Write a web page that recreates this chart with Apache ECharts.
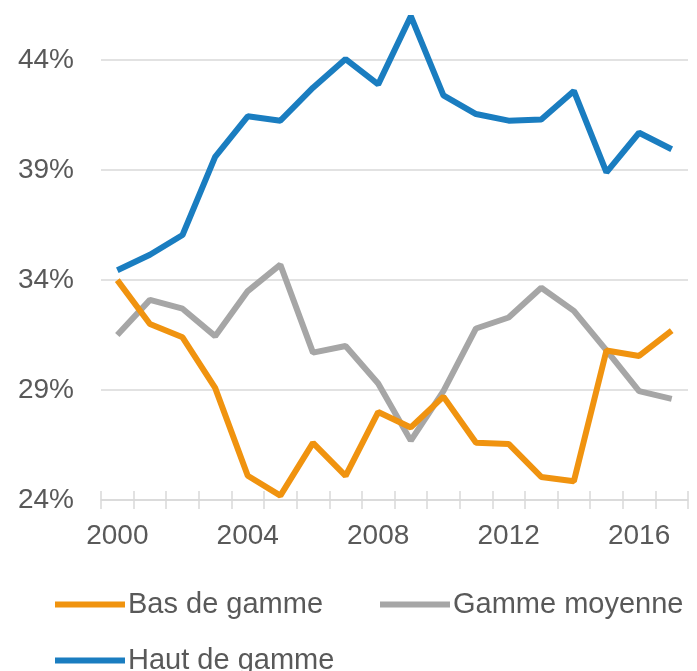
<!DOCTYPE html>
<html>
<head>
<meta charset="utf-8">
<script src="https://cdn.jsdelivr.net/npm/echarts@6/dist/echarts.min.js"></script>
<style>
  html, body { margin: 0; padding: 0; background: #fff; }
  #chart { width: 697px; height: 671px; }
</style>
</head>
<body>
<div id="chart"></div>
<script>
var years = ['2000', '2001', '2002', '2003', '2004', '2005', '2006', '2007', '2008',
    '2009', '2010', '2011', '2012', '2013', '2014', '2015', '2016', '2017'];

var basDeGamme = [34.0, 32.0, 31.4, 29.1, 25.1, 24.2, 26.6, 25.1, 28.0,
    27.3, 28.7, 26.6, 26.55, 25.05, 24.85, 30.8, 30.55, 31.7];
var gammeMoyenne = [31.5, 33.1, 32.7, 31.45, 33.5, 34.7, 30.7, 31.0, 29.3,
    26.7, 28.95, 31.8, 32.3, 33.65, 32.6, 30.8, 28.95, 28.6];
var hautDeGamme = [34.45, 35.15, 36.05, 39.6, 41.45, 41.25, 42.75, 44.05, 42.9,
    46.0, 42.4, 41.55, 41.25, 41.3, 42.6, 38.9, 40.7, 39.95];

var yTicks = [24, 29, 34, 39, 44];

var labelColor = '#595959';
var gridColor = '#d9d9d9';
var font = 'Liberation Sans, Arial, sans-serif';

var chart = echarts.init(document.getElementById('chart'));

function legendAt(name, left, top) {
    return {
        data: [name],
        left: left,
        top: top,
        itemWidth: 70,
        itemHeight: 6,
        itemGap: 0,
        icon: 'rect',
        textStyle: { color: labelColor, fontSize: 29, fontFamily: font, padding: [0, 0, 0, -2] }
    };
}

var option = {
    backgroundColor: '#fff',
    animation: false,
    grid: { left: 101, right: 9, top: 3, bottom: 171 },
    legend: [
        legendAt('Bas de gamme', 50, 585),
        legendAt('Gamme moyenne', 375, 585),
        legendAt('Haut de gamme', 50, 641)
    ],
    xAxis: [
        {
            type: 'category',
            data: years,
            boundaryGap: true,
            axisLine: { lineStyle: { color: gridColor, width: 1.5 } },
            axisTick: { show: true, interval: 0, length: 9, lineStyle: { color: gridColor, width: 1.5 } },
            axisLabel: { interval: 3, margin: 22, color: labelColor, fontSize: 28, fontFamily: font },
            splitLine: { show: false }
        },
        {
            type: 'category',
            data: years,
            position: 'bottom',
            boundaryGap: true,
            axisLine: { show: false },
            axisTick: { show: true, inside: true, interval: 0, length: 9, lineStyle: { color: gridColor, width: 1.5 } },
            axisLabel: { show: false },
            splitLine: { show: false }
        }
    ],
    yAxis: {
        type: 'value',
        min: yTicks[0],
        max: 46.6,
        interval: 5,
        axisLine: { show: false },
        axisTick: { show: false },
        axisLabel: {
            margin: 27,
            color: labelColor,
            fontSize: 28,
            fontFamily: font,
            formatter: function (v) {
                return yTicks.indexOf(v) >= 0 ? v + '%' : '';
            }
        },
        splitLine: {
            lineStyle: {
                color: [gridColor, gridColor, gridColor, gridColor, gridColor, 'rgba(0,0,0,0)'],
                width: 1.5
            }
        }
    },
    series: [
        {
            name: 'Bas de gamme',
            type: 'line',
            data: basDeGamme,
            symbol: 'none',
            clip: false,
            color: '#f0930f',
            lineStyle: { width: 6, color: '#f0930f' },
            z: 3
        },
        {
            name: 'Gamme moyenne',
            type: 'line',
            data: gammeMoyenne,
            symbol: 'none',
            clip: false,
            color: '#a6a6a6',
            lineStyle: { width: 6, color: '#a6a6a6' },
            z: 2
        },
        {
            name: 'Haut de gamme',
            type: 'line',
            data: hautDeGamme,
            symbol: 'none',
            clip: false,
            color: '#1a7dc0',
            lineStyle: { width: 6, color: '#1a7dc0' },
            z: 4
        }
    ]
};

option && chart.setOption(option);
</script>
</body>
</html>
